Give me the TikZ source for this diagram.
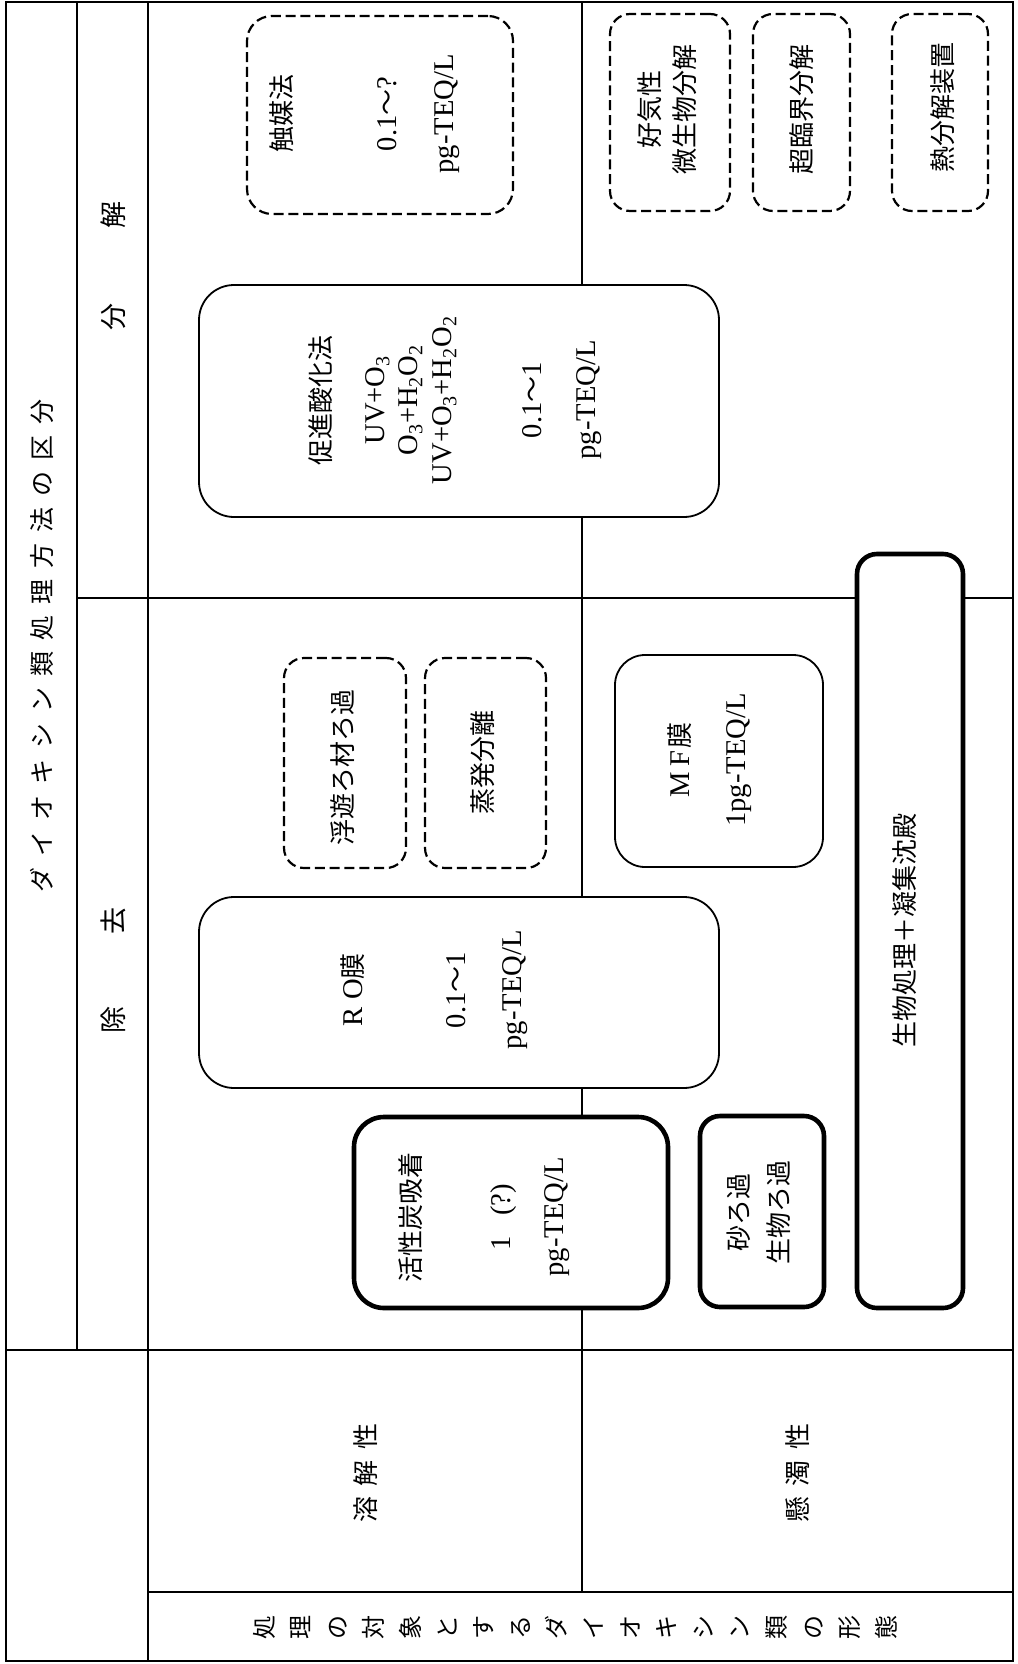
\documentclass[tikz,border=0pt]{standalone}
\usepackage{fontspec}
\setmainfont{Noto Sans CJK JP}
\newfontfamily\lat[Scale=1.1]{Liberation Serif}
\newcommand\tgap{\hspace{5.5pt}}
\newcommand\rgap{\hspace{5.25pt}}
\begin{document}
\begin{tikzpicture}[x=0.5pt,y=-0.5pt,
  tline/.style={line width=1pt},
  outerframe/.style={line width=1.3pt},
  boxbase/.style={draw, fill=white, rectangle, inner sep=0pt},
  thinbox/.style={boxbase, line width=0.9pt},
  thickbox/.style={boxbase, line width=2.3pt},
  dashbox/.style={boxbase, line width=1.1pt, dash pattern=on 5pt off 2.4pt},
  txt/.style={rotate=90, align=center, inner sep=0pt, font=\fontsize{13}{16}\selectfont},
  headtxt/.style={rotate=90, inner sep=0pt, font=\fontsize{13.5}{16}\selectfont},
  spacedtxt/.style={rotate=90, inner sep=0pt, font=\fontsize{12.5}{15}\selectfont}]
\path[use as bounding box, fill=white] (0,0) rectangle (1017,1664);

% table lines
\draw[outerframe] (6,2) rectangle (1013,1661);
\draw[tline] (77,2) -- (77,1350);
\draw[tline] (148,2) -- (148,1661);
\draw[tline] (6,1350) -- (1013,1350);
\draw[tline] (148,1592) -- (1013,1592);
\draw[tline] (582,2) -- (582,1592);
\draw[tline] (77,598) -- (1013,598);

% header texts
\node[spacedtxt] (title) at (42,646) {ダ\tgap イ\tgap オ\tgap キ\tgap シ\tgap ン\tgap 類\tgap 処\tgap 理\tgap 方\tgap 法\tgap の\tgap 区\tgap 分};
\node[headtxt] (bunkai) at (113,266) {分\hspace{37.5pt}解};
\node[headtxt] (jokyo) at (113,970) {除\hspace{36pt}去};
\node[spacedtxt, font=\fontsize{13}{15}\selectfont] (yokai) at (366,1473) {溶\rgap 解\rgap 性};
\node[spacedtxt, font=\fontsize{13}{15}\selectfont] (kendaku) at (798,1473) {懸\rgap 濁\rgap 性};
\node[rotate=90, align=center, inner sep=0pt, font=\fontsize{12}{18.3}\selectfont] (formlabel) at (575,1627)
  {処\\理\\の\\対\\象\\と\\す\\る\\ダ\\イ\\オ\\キ\\シ\\ン\\類\\の\\形\\態};

% boxes
\node[dashbox, minimum width=133pt, minimum height=99pt, rounded corners=12.5pt] (catbox) at (380,115) {};
\node[dashbox, minimum width=60pt, minimum height=98.5pt, rounded corners=10pt] (aerobox) at (670,112.5) {};
\node[dashbox, minimum width=48.5pt, minimum height=98.5pt, rounded corners=10pt] (scwbox) at (801.5,112.5) {};
\node[dashbox, minimum width=48pt, minimum height=98.5pt, rounded corners=10pt] (thermbox) at (940,112.5) {};
\node[thinbox, minimum width=260pt, minimum height=116pt, rounded corners=17.5pt] (aopbox) at (459,401) {};
\node[dashbox, minimum width=61pt, minimum height=105pt, rounded corners=10pt] (floatbox) at (345,763) {};
\node[dashbox, minimum width=60.5pt, minimum height=105pt, rounded corners=10pt] (evapbox) at (485.5,763) {};
\node[thinbox, minimum width=104pt, minimum height=106pt, rounded corners=15pt] (mfbox) at (719,761) {};
\node[thickbox, minimum width=53pt, minimum height=377pt, rounded corners=10pt] (biobox) at (910,931) {};
\node[thinbox, minimum width=260pt, minimum height=95.5pt, rounded corners=17.5pt] (robox) at (459,992.5) {};
\node[thickbox, minimum width=157pt, minimum height=95.5pt, rounded corners=15pt] (acbox) at (511,1212.5) {};
\node[thickbox, minimum width=62pt, minimum height=95.5pt, rounded corners=10pt] (sandbox) at (762,1211.5) {};

% box texts
\node[txt] (cattext) at (364.5,114) {触媒法\\[36.5pt]{\lat 0.1}～{\lat ?}\\[12.5pt]{\lat pg-TEQ/L}};
\node[txt] (aerotext) at (667.5,110) {好気性\\[1.5pt]微生物分解};
\node[txt] (scwtext) at (802,110) {超臨界分解};
\node[txt] (thermtext) at (943,108) {熱分解装置};
\node[txt] (aoptext) at (455,400) {促進酸化法\\[11pt]{\lat UV+O\textsubscript{3}}\\[0.5pt]{\lat O\textsubscript{3}+H\textsubscript{2}O\textsubscript{2}}\\[1pt]{\lat UV+O\textsubscript{3}+H\textsubscript{2}O\textsubscript{2}}\\[29pt]{\lat 0.1}～{\lat 1}\\[11pt]{\lat pg-TEQ/L}};
\node[txt] (floattext) at (343,767) {浮遊ろ材ろ過};
\node[txt] (evaptext) at (483,762) {蒸発分離};
\node[txt] (mftext) at (710,760) {{\lat M\hspace{3pt}F}\hspace{1pt}膜\\[12pt]{\lat 1pg-TEQ/L}};
\node[txt] (biotext) at (905,930) {生物処理＋凝集沈殿};
\node[txt] (rotext) at (434.5,990) {{\lat R\hspace{4pt}O}膜\\[35.5pt]{\lat 0.1}～{\lat 1}\\[12pt]{\lat pg-TEQ/L}};
\node[txt] (actext) at (484.5,1217) {活性炭吸着\\[29pt]{\lat 1\hspace{10pt}(?)}\\[10.5pt]{\lat pg-TEQ/L}};
\node[txt] (sandtext) at (759,1212) {砂ろ過\\[4pt]生物ろ過};
\end{tikzpicture}
\end{document}
